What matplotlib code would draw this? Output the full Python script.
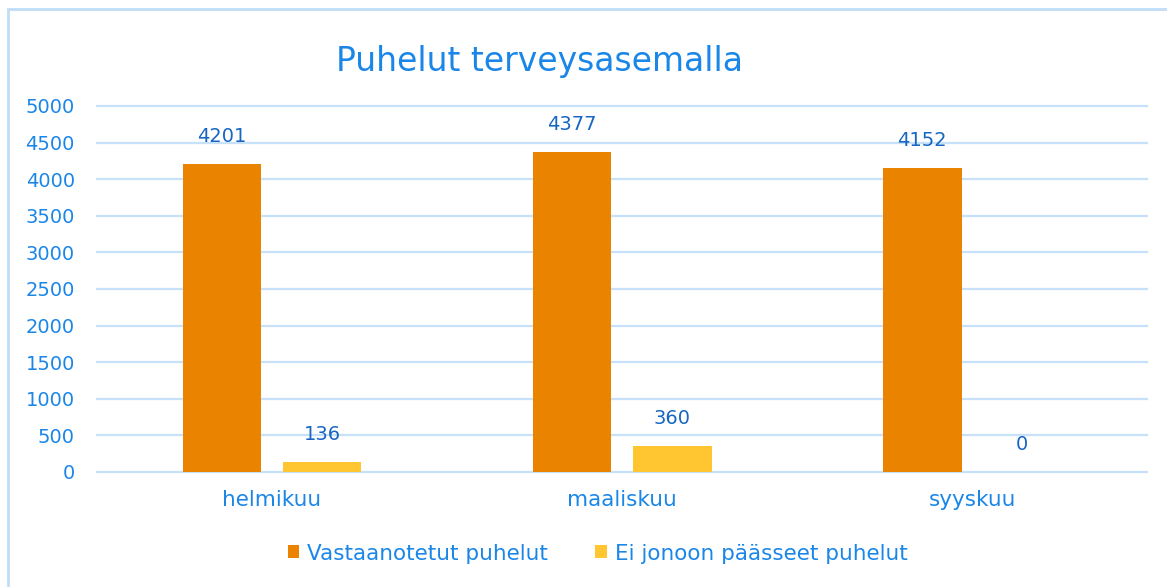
import numpy as np
import matplotlib
matplotlib.use("Agg")
import matplotlib.pyplot as plt
from matplotlib.patches import Rectangle

# data
months = ["helmikuu", "maaliskuu", "syyskuu"]
answered = [4201, 4377, 4152]
not_queued = [136, 360, 0]
series_names = ["Vastaanotetut puhelut", "Ei jonoon päässeet puhelut"]
yticks = list(range(0, 5001, 500))

c_orange = "#E98300"
c_yellow = "#FFC632"
c_tick = "#1A86E8"
c_label = "#1766C2"
c_grid = "#C6E1F9"

plt.rcParams['font.family'] = ['DejaVu Sans']

fig = plt.figure(figsize=(11.67, 5.87), dpi=100)
ax = fig.add_axes([0.0831, 0.196, 0.9, 0.6235])

x = np.arange(len(months))
w = 0.225
b1 = ax.bar(x - 0.143, answered, w, color=c_orange, label=series_names[0], zorder=3)
b2 = ax.bar(x + 0.143, not_queued, w, color=c_yellow, label=series_names[1], zorder=3)

for bars in (b1, b2):
    ax.bar_label(bars, labels=[str(int(v)) for v in bars.datavalues],
                 padding=13, color=c_label, fontsize=14)

ax.set_xlim(-0.5, len(months) - 0.5)
ax.set_ylim(0, 5000)
ax.set_yticks(yticks)
ax.set_xticks(x)
ax.set_xticklabels(months, fontsize=15.5)
ax.tick_params(axis='both', length=0, colors=c_tick)
ax.tick_params(axis='y', labelsize=14, pad=16)
ax.tick_params(axis='x', pad=13)
ax.grid(axis='y', color=c_grid, linewidth=1.6, zorder=0)
for gl in ax.get_ygridlines():
    gl.set_clip_on(False)
for s in ax.spines.values():
    s.set_visible(False)

fig.text(0.462, 0.896, "Puhelut terveysasemalla", ha='center', va='center',
         fontsize=23.8, color=c_tick)

# border around chart
fig.patches.append(Rectangle((8 / 1167, -0.02), 1.05, 1 - 9 / 587 + 0.02,
                             transform=fig.transFigure, fill=False,
                             edgecolor="#BFDDF7", linewidth=2))

leg = fig.legend(loc='center', bbox_to_anchor=(0.512, 0.057), ncol=2,
                 frameon=False, fontsize=15.5, handlelength=0.55, handleheight=0.55,
                 columnspacing=2.2, handletextpad=0.35)
for t in leg.get_texts():
    t.set_color(c_tick)

fig.savefig("out.png", dpi=100)
